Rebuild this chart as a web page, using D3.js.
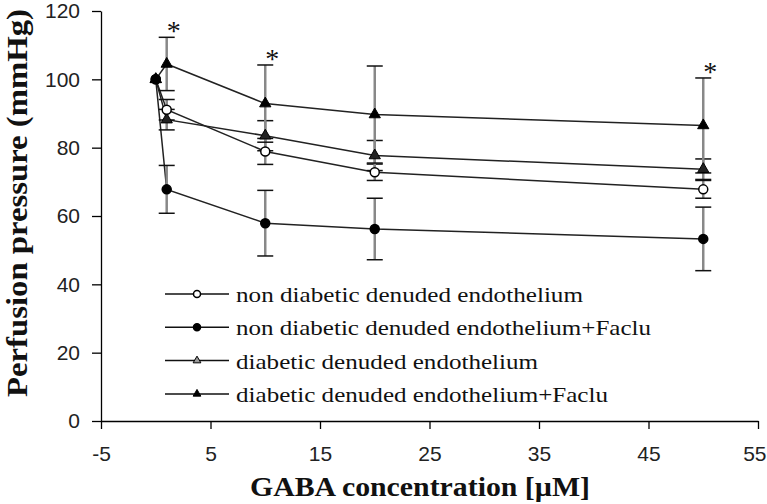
<!DOCTYPE html>
<meta charset="utf-8">
<body style="margin:0;background:#fff">
<svg id="chart"></svg>
</body>

<style>
text.serif { font-family: "Liberation Serif", "Times New Roman", serif; fill: #111; }
.tick text { font-family: "Liberation Sans", Arial, sans-serif; }
</style>

<script src="https://d3js.org/d3.v7.min.js"></script>
<script>

// concentrations of GABA (µM)
var conc = [0, 1, 10, 20, 50];

// series values (mmHg) and their error bars
var nonDiab       = [100, 91.1, 78.9, 72.8, 67.8];
var nonDiabErr    = [0, 3, 3.8, 2.4, 2.6];
var nonDiabFaclu  = [100, 67.8, 57.9, 56.2, 53.3];
var nonDiabFacluErr = [0, 7, 9.6, 9, 9.3];
var diab          = [100, 88.2, 83.5, 77.7, 73.7];
var diabErr       = [0, 3, 4.4, 4.4, 3];
var diabFaclu     = [100, 104.5, 92.9, 89.7, 86.5];
var diabFacluErr  = [0, 7.8, 11.3, 14.2, 13.9];

var seriesNames = ["non diabetic denuded endothelium",
                   "non diabetic denuded endothelium+Faclu",
                   "diabetic denuded endothelium",
                   "diabetic denuded endothelium+Faclu"];

// points marked as significant (*)
var starConc = [1, 10, 50];

var xTicks = [-5, 5, 15, 25, 35, 45, 55];
var yTicks = [0, 20, 40, 60, 80, 100, 120];

var svg = d3.select("#chart").attr("width", 767).attr("height", 504);

var x = d3.scaleLinear().domain([-5, 55]).range([101, 758]);
var y = d3.scaleLinear().domain([0, 120]).range([421, 11]);

var series = [
  {name: seriesNames[0], v: nonDiab, e: nonDiabErr, shape: "circle", fill: "#fff"},
  {name: seriesNames[1], v: nonDiabFaclu, e: nonDiabFacluErr, shape: "circle", fill: "#000"},
  {name: seriesNames[2], v: diab, e: diabErr, shape: "triangle", fill: "#222"},
  {name: seriesNames[3], v: diabFaclu, e: diabFacluErr, shape: "triangle", fill: "#000"}
];

// axes
var xAxis = svg.append("g")
    .attr("transform", "translate(0," + y(0) + ")")
    .call(d3.axisBottom(x).tickValues(xTicks).tickFormat(d => String(d))
      .tickSize(8).tickSizeOuter(0));
xAxis.selectAll("text").attr("font-size", 21).attr("y", 40).attr("dy", 0);
// last label sits against the right edge
xAxis.selectAll(".tick").filter(d => d === 55).select("text")
    .attr("text-anchor", "end").attr("x", 8);

var yAxis = svg.append("g")
    .attr("transform", "translate(" + x(-5) + ",0)")
    .call(d3.axisLeft(y).tickValues(yTicks).tickSize(9).tickPadding(12).tickSizeOuter(0));
yAxis.selectAll("text").attr("font-size", 21);

svg.selectAll(".domain, .tick line").attr("stroke", "#000").attr("stroke-width", 1.3);
svg.selectAll(".tick text").attr("fill", "#222");

var line = d3.line().x(d => x(d[0])).y(d => y(d[1]));

// connecting lines
series.forEach(function(s) {
  svg.append("path")
      .attr("d", line(conc.map((c, i) => [c, s.v[i]])))
      .attr("fill", "none")
      .attr("stroke", "#222")
      .attr("stroke-width", 1.5);
});

// error bars
series.forEach(function(s) {
  conc.forEach(function(c, i) {
    if (!s.e[i]) return;
    var g = svg.append("g");
    g.append("line")
        .attr("x1", x(c)).attr("x2", x(c))
        .attr("y1", y(s.v[i] - s.e[i])).attr("y2", y(s.v[i] + s.e[i]))
        .attr("stroke", "#888").attr("stroke-width", 2.5);
    [s.v[i] - s.e[i], s.v[i] + s.e[i]].forEach(function(b) {
      g.append("line")
          .attr("x1", x(c) - 8).attr("x2", x(c) + 8)
          .attr("y1", y(b)).attr("y2", y(b))
          .attr("stroke", "#111").attr("stroke-width", 1.5);
    });
  });
});

// markers
function marker(g, s, cx, cy, small) {
  if (s.shape === "circle") {
    g.append("circle").attr("cx", cx).attr("cy", cy).attr("r", small ? 3.5 : 4.5)
        .attr("fill", s.fill).attr("stroke", "#000").attr("stroke-width", 1.5);
  } else {
    var sym = d3.symbol().type(d3.symbolTriangle).size(small ? 26 : 55);
    g.append("path").attr("d", sym())
        .attr("transform", "translate(" + cx + "," + cy + ")")
        .attr("fill", small && s.name === seriesNames[2] ? "#999" : s.fill)
        .attr("stroke", "#000").attr("stroke-width", 1);
  }
}

// triangles first so the filled circle sits on top at x = 0
[2, 3, 0, 1].forEach(function(k) {
  var s = series[k];
  conc.forEach(function(c, i) {
    marker(svg, s, x(c), y(s.v[i]), false);
  });
});

// stars above the top series
starConc.forEach(function(c) {
  var i = conc.indexOf(c);
  svg.append("text")
      .attr("class", "serif")
      .attr("x", x(c) + 7)
      .attr("y", y(diabFaclu[i] + diabFacluErr[i]) + 3)
      .attr("text-anchor", "middle")
      .attr("font-size", 28)
      .attr("fill", "#333")
      .text("*");
});

// legend
var legendLen = [347, 415, 302, 372];
var legend = svg.append("g");
series.forEach(function(s, i) {
  var ly = 294 + i * 33.3;
  legend.append("line").attr("x1", 165).attr("x2", 229).attr("y1", ly).attr("y2", ly)
      .attr("stroke", "#111").attr("stroke-width", 1.5);
  marker(legend, s, 197, ly, true);
  legend.append("text")
      .attr("class", "serif")
      .attr("x", 236).attr("y", ly + 8)
      .attr("font-size", 21)
      .attr("textLength", legendLen[i])
      .attr("lengthAdjust", "spacingAndGlyphs")
      .text(s.name);
});

// axis titles
svg.append("text")
    .attr("class", "serif")
    .attr("x", 420).attr("y", 496)
    .attr("text-anchor", "middle")
    .attr("font-size", 28).attr("font-weight", "bold")
    .attr("textLength", 340).attr("lengthAdjust", "spacingAndGlyphs")
    .text("GABA concentration [\u00b5M]");

svg.append("text")
    .attr("class", "serif")
    .attr("transform", "translate(27,203) rotate(-90)")
    .attr("text-anchor", "middle")
    .attr("font-size", 29).attr("font-weight", "bold")
    .attr("textLength", 388).attr("lengthAdjust", "spacingAndGlyphs")
    .text("Perfusion pressure  (mmHg)");

</script>
